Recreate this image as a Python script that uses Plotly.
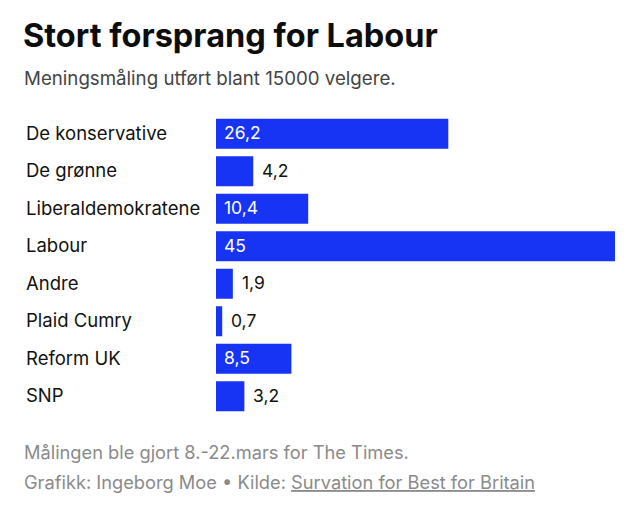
import plotly.graph_objects as go

categories = ["De konservative", "De grønne", "Liberaldemokratene", "Labour",
              "Andre", "Plaid Cumry", "Reform UK", "SNP"]
values = [26.2, 4.2, 10.4, 45, 1.9, 0.7, 8.5, 3.2]
value_labels = ["26,2", "4,2", "10,4", "45", "1,9", "0,7", "8,5", "3,2"]

title = "Stort forsprang for Labour"
subtitle = "Meningsmåling utført blant 15000 velgere."
note = "Målingen ble gjort 8.-22.mars for The Times."
credit = "Grafikk: Ingeborg Moe • Kilde: <u>Survation for Best for Britain</u>"

W, H = 640, 519
L, R, T, B = 216, 25, 115, 104
PW, PH = W - L - R, H - T - B
FONT = "Inter, Roboto, sans-serif"
BAR = "#1733F4"


def px(x):
    return (x - L) / PW


def py(y):
    return (H - B - y) / PH


fig = go.Figure(go.Bar(
    x=values, y=categories, orientation="h",
    marker=dict(color=BAR, line=dict(width=0)),
    hoverinfo="skip",
))

ann = []
for c, v, lab in zip(categories, values, value_labels):
    if v > 5:
        ann.append(dict(x=0, y=c, xref="x", yref="y", text=lab, showarrow=False,
                        xanchor="left", xshift=6, yshift=1,
                        font=dict(color="white", size=17.5, family=FONT)))
    else:
        ann.append(dict(x=v, y=c, xref="x", yref="y", text=lab, showarrow=False,
                        xanchor="left", xshift=7, yshift=1,
                        font=dict(color="#111111", size=17.5, family=FONT)))
    ann.append(dict(x=px(24), y=c, xref="paper", yref="y", text=c, showarrow=False,
                    xanchor="left", yshift=1, font=dict(color="#111111", size=18.5, family=FONT)))

ann.append(dict(x=px(21), y=py(35), xref="paper", yref="paper", text="<b>" + title + "</b>",
                showarrow=False, xanchor="left", yanchor="middle",
                font=dict(color="#0d0d0d", size=32.5, family=FONT)))
ann.append(dict(x=px(22), y=py(79), xref="paper", yref="paper", text=subtitle,
                showarrow=False, xanchor="left", yanchor="middle",
                font=dict(color="#444444", size=18.7, family=FONT)))
ann.append(dict(x=px(22), y=py(452), xref="paper", yref="paper", text=note,
                showarrow=False, xanchor="left", yanchor="middle",
                font=dict(color="#8a8a8a", size=18.25, family=FONT)))
ann.append(dict(x=px(22), y=py(482), xref="paper", yref="paper", text=credit,
                showarrow=False, xanchor="left", yanchor="middle",
                font=dict(color="#8a8a8a", size=18.25, family=FONT)))

fig.update_layout(
    width=W, height=H,
    margin=dict(l=L, r=R, t=T, b=B, pad=0),
    paper_bgcolor="white", plot_bgcolor="white",
    bargap=0.2,
    showlegend=False,
    annotations=ann,
    xaxis=dict(range=[0, 45], visible=False, fixedrange=True),
    yaxis=dict(autorange="reversed", showticklabels=False, showgrid=False,
               zeroline=False, showline=False, ticks="", fixedrange=True),
)

fig.write_html("out.html", config={"displayModeBar": False},
               post_script="document.body.style.margin='0';document.body.style.overflow='hidden';")
